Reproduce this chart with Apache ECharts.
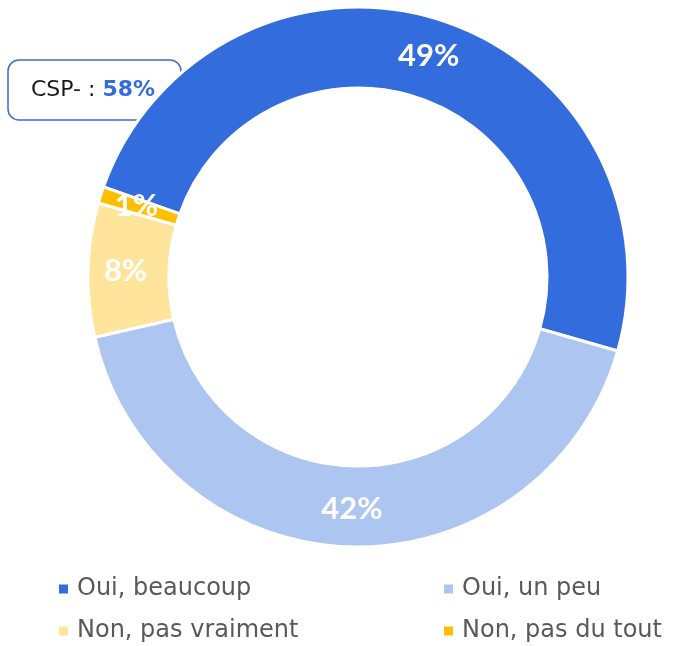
<!DOCTYPE html>
<html>
<head>
<meta charset="utf-8">
<script src="https://cdn.jsdelivr.net/npm/echarts@6/dist/echarts.min.js"></script>
<style>
  html, body { margin: 0; padding: 0; background: #fff; }
  #chart { width: 677px; height: 646px; }
</style>
</head>
<body>
<div id="chart"></div>
<script>
var categories = ["Oui, beaucoup", "Oui, un peu", "Non, pas vraiment", "Non, pas du tout"];
var values = [49, 42, 8, 1];
var colors = ["#336CDD", "#ADC5F1", "#FFE49C", "#FFBF00"];
var calloutLabel = "CSP- : ";
var calloutValue = "58%";

var font = "DejaVu Sans";

var chart = echarts.init(document.getElementById("chart"));
chart.setOption({
  backgroundColor: "#fff",
  title: {
    text: "{a|" + calloutLabel + "}{b|" + calloutValue + "}",
    left: 8,
    top: 60,
    z: 1,
    padding: [19, 26, 19, 23],
    backgroundColor: "#fff",
    borderColor: "#3A6BD8",
    borderWidth: 1.5,
    borderRadius: 11,
    textStyle: {
      rich: {
        a: { fontFamily: font, fontSize: 22, fontWeight: "normal", color: "#1a1a1a" },
        b: { fontFamily: font, fontSize: 22, fontWeight: "bold", color: "#336CDD" }
      }
    }
  },
  legend: [
    {
      data: [categories[0], categories[2]],
      orient: "vertical",
      left: 57,
      top: 577,
      height: 70,
      padding: 0,
      itemWidth: 11,
      itemHeight: 11,
      itemGap: 18,
      icon: "rect",
      textStyle: { fontFamily: font, fontSize: 24, color: "#595959", lineHeight: 24, padding: [0, 0, 0, 3] }
    },
    {
      data: [categories[1], categories[3]],
      orient: "vertical",
      left: 442,
      top: 577,
      height: 70,
      padding: 0,
      itemWidth: 11,
      itemHeight: 11,
      itemGap: 18,
      icon: "rect",
      textStyle: { fontFamily: font, fontSize: 24, color: "#595959", lineHeight: 24, padding: [0, 0, 0, 3] }
    }
  ],
  series: [
    {
      type: "pie",
      z: 3,
      center: [358, 277],
      radius: [189, 270],
      startAngle: 160.5,
      clockwise: true,
      avoidLabelOverlap: false,
      itemStyle: { borderColor: "#fff", borderWidth: 3 },
      label: {
        show: true,
        position: "inside",
        formatter: "{c}%",
        color: "#fff",
        fontFamily: "Lato",
        fontSize: 31,
        fontWeight: "bold"
      },
      labelLine: { show: false },
      emphasis: { disabled: true },
      data: categories.map(function (name, i) {
        return { name: name, value: values[i], itemStyle: { color: colors[i] } };
      })
    }
  ]
});
</script>
</body>
</html>
